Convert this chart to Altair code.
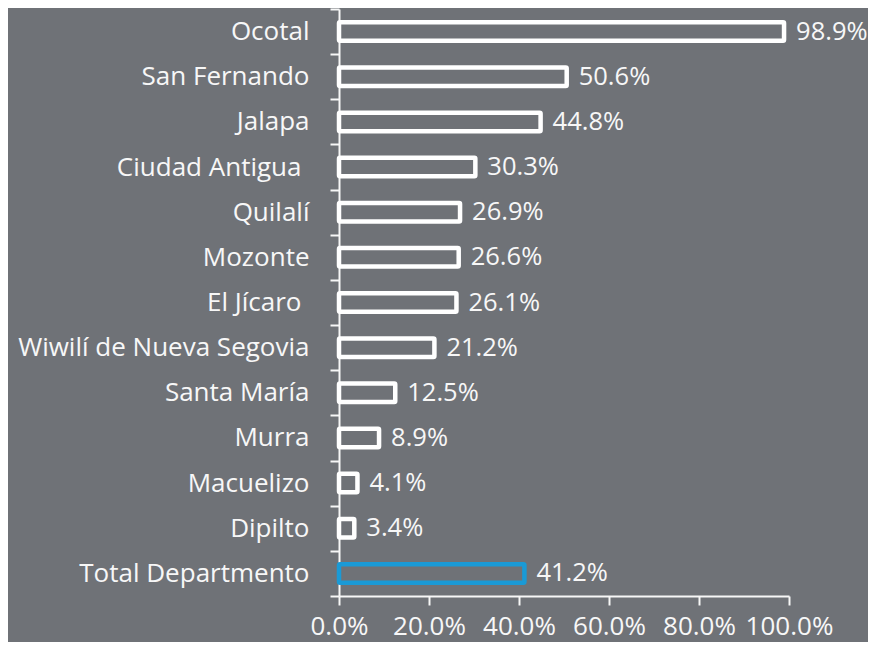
import altair as alt
import pandas as pd

categories = ["Ocotal", "San Fernando", "Jalapa", "Ciudad Antigua", "Quilalí", "Mozonte",
              "El Jícaro", "Wiwilí de Nueva Segovia", "Santa María", "Murra", "Macuelizo",
              "Dipilto", "Total Departmento"]
values = [0.989, 0.506, 0.448, 0.303, 0.269, 0.266, 0.261, 0.212, 0.125, 0.089, 0.041, 0.034, 0.412]
groups = ["mun"] * 12 + ["total"]

df = pd.DataFrame({"cat": categories, "val": values, "grp": groups})

BG = "#6f7277"
FONT = "Open Sans"
TXT = "#f7f7f7"
FS = 26

y = alt.Y("cat:N", sort=categories, title=None,
          scale=alt.Scale(paddingInner=0, paddingOuter=0),
          axis=alt.Axis(tickBand="extent", tickSize=9,
                        labelPadding={"condition": {"test": "datum.value === 'Ciudad Antigua' || datum.value === 'El Jícaro'",
                                                    "value": 29}, "value": 21},
                        labelFontSize=FS,
                        labelFont=FONT, labelColor=TXT, domainColor=TXT,
                        tickColor=TXT, domainWidth=2, tickWidth=2, labelLimit=400))
x = alt.X("val:Q", title=None,
          scale=alt.Scale(domain=[0, 1], nice=False),
          axis=alt.Axis(values=[0, 0.2, 0.4, 0.6, 0.8, 1.0], format=".1%", grid=False,
                        tickSize=9, labelPadding=8, labelFontSize=FS, labelFont=FONT,
                        labelColor=TXT, domainColor=TXT, tickColor=TXT,
                        domainWidth=2, tickWidth=2, labelFlush=False, labelOverlap=False))

bars = alt.Chart(df).mark_rect(height=18.5, fill=BG, strokeWidth=4.5, cornerRadius=1).encode(
    y=y, x=alt.X("zero:Q", scale=alt.Scale(domain=[0, 1], nice=False)), x2="val:Q",
    stroke=alt.Color("grp:N", scale=alt.Scale(domain=["mun", "total"], range=["#ffffff", "#1a9ad6"]),
                     legend=None),
).transform_calculate(zero="0")

labels = alt.Chart(df).mark_text(align="left", baseline="middle", dx=12, fontSize=25.5,
                                 font=FONT, color=TXT).encode(
    y=alt.Y("cat:N", sort=categories),
    x=x,
    text=alt.Text("val:Q", format=".1%"),
)

chart = (labels + bars).properties(
    width=450, height=587, background=BG,
    padding={"left": 331, "top": 1, "right": 79, "bottom": 46},
    autosize=alt.AutoSizeParams(type="none"),
).configure_view(stroke=None)

chart.save("out.html", embed_options={"renderer": "svg", "actions": False})
